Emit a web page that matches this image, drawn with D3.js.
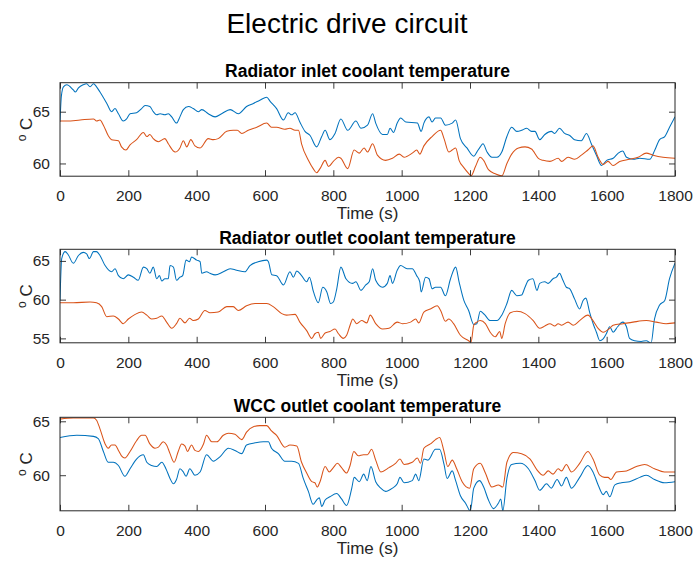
<!DOCTYPE html>
<html>
<head>
<meta charset="utf-8">
<script src="https://cdn.jsdelivr.net/npm/d3@7"></script>
<style>
  html, body { margin: 0; padding: 0; background: #fff; }
  svg { display: block; font-family: "Liberation Sans", Arial, Helvetica, sans-serif; }
</style>
</head>
<body>
<svg id="chart" width="694" height="561"></svg>
<script>
// ---- Data: [time (s), temperature (°C)] ----
const xTicks = [0, 200, 400, 600, 800, 1000, 1200, 1400, 1600, 1800];

const panelTitles = [
  "Radiator inlet coolant temperature",
  "Radiator outlet coolant temperature",
  "WCC outlet coolant temperature"
];
const yDomains = [[58.77, 67.8], [54.43, 66.5], [56.7, 65.37]];
const yTicks = [[60, 65], [55, 60, 65], [60, 65]];

const inletBlue = [[0,64.0],[4,66.5],[10,67.4],[20,67.6],[39,67.1],[45,66.9],[54,67.3],[68,67.6],[78,67.7],[88,67.4],[98,67.7],[107,67.4],[117,66.9],[137,65.8],[151,65.0],[161,65.3],[171,64.8],[185,64.1],[195,64.3],[205,64.8],[224,64.9],[239,65.3],[249,65.6],[263,65.5],[273,65.0],[283,64.7],[293,64.8],[307,64.7],[317,64.8],[327,64.5],[341,63.9],[351,64.5],[361,65.2],[376,65.5],[390,65.3],[405,65.0],[415,65.2],[434,64.8],[454,64.5],[473,64.8],[498,65.2],[522,64.8],[546,65.5],[566,65.8],[585,66.1],[605,66.4],[615,66.0],[634,65.3],[654,64.2],[668,64.9],[678,64.7],[688,64.9],[702,64.0],[717,63.1],[732,62.7],[751,61.6],[766,62.6],[776,63.2],[790,62.3],[805,62.9],[822,64.3],[842,63.2],[866,64.1],[881,63.4],[900,63.7],[915,64.8],[924,63.9],[944,62.8],[958,62.8],[966,63.4],[976,63.0],[987,63.9],[997,64.4],[1012,64.0],[1046,63.9],[1057,63.1],[1065,63.9],[1080,64.5],[1089,64.0],[1099,64.4],[1114,64.4],[1128,63.7],[1148,63.9],[1158,64.2],[1172,62.4],[1191,61.5],[1211,60.7],[1220,61.1],[1230,61.6],[1238,61.9],[1250,61.1],[1264,60.6],[1279,60.6],[1293,61.1],[1308,62.6],[1322,63.5],[1337,63.1],[1351,63.2],[1366,63.4],[1380,63.1],[1390,63.1],[1404,62.3],[1419,62.8],[1438,63.1],[1448,62.9],[1462,63.4],[1477,62.9],[1492,62.7],[1506,62.3],[1526,62.2],[1541,62.9],[1555,61.9],[1570,60.8],[1585,59.8],[1600,60.3],[1619,60.5],[1634,61.0],[1647,61.2],[1658,60.6],[1678,60.4],[1697,60.5],[1726,60.4],[1741,61.3],[1755,62.3],[1770,62.6],[1784,63.5],[1800,64.5]];

const inletOrange = [[0,64.1],[20,64.1],[59,64.2],[98,64.3],[107,64.1],[117,64.2],[127,63.7],[141,62.7],[151,62.3],[171,62.2],[180,61.6],[193,61.3],[205,61.8],[224,62.3],[244,63.0],[254,62.6],[263,62.8],[273,62.4],[288,62.1],[307,62.4],[317,61.9],[337,61.1],[351,61.5],[361,62.2],[371,61.6],[383,62.3],[395,61.7],[410,61.5],[434,62.4],[449,62.3],[463,62.4],[488,63.1],[507,63.2],[519,63.2],[532,62.9],[551,63.2],[576,63.5],[605,63.9],[619,63.5],[634,63.5],[658,63.3],[673,63.4],[688,63.2],[698,63.2],[707,61.9],[727,60.3],[741,59.5],[751,59.1],[761,59.5],[776,60.3],[786,59.7],[800,60.2],[815,60.6],[822,60.5],[842,59.5],[861,61.3],[876,61.0],[890,61.5],[900,61.1],[915,61.9],[929,60.8],[953,60.3],[973,60.5],[993,60.9],[1007,60.6],[1031,61.0],[1044,61.3],[1053,60.9],[1065,61.7],[1089,62.6],[1114,63.2],[1124,62.4],[1138,61.1],[1148,61.3],[1158,61.5],[1168,60.3],[1182,59.6],[1197,59.0],[1203,58.8],[1216,59.7],[1230,60.6],[1240,60.3],[1254,59.4],[1274,59.0],[1293,58.8],[1308,60.0],[1322,60.9],[1342,61.5],[1361,61.6],[1380,61.4],[1400,60.5],[1414,60.3],[1434,60.2],[1458,60.5],[1468,60.2],[1487,60.6],[1506,60.4],[1526,60.8],[1545,61.3],[1560,61.7],[1575,60.6],[1590,59.9],[1604,60.2],[1619,59.8],[1638,60.2],[1667,60.4],[1692,60.6],[1716,61.0],[1736,60.8],[1765,60.6],[1800,60.5]];

const outletBlue = [[0,59.9],[5,65.3],[15,66.2],[24,65.8],[39,64.7],[54,65.7],[68,66.1],[78,65.9],[86,65.3],[98,66.2],[107,66.2],[117,65.7],[132,64.4],[151,63.6],[161,64.0],[171,63.1],[185,62.7],[200,63.2],[215,62.9],[229,62.5],[244,64.2],[254,64.0],[263,63.4],[273,64.2],[283,62.7],[291,63.1],[298,62.4],[307,62.7],[317,62.7],[322,64.4],[332,64.2],[341,62.5],[351,62.9],[359,63.1],[369,65.1],[379,64.9],[385,65.5],[400,65.1],[410,64.9],[415,63.4],[429,63.6],[439,63.4],[454,63.2],[478,63.6],[498,64.0],[517,63.8],[541,63.6],[556,64.4],[580,64.9],[605,65.1],[610,64.9],[620,63.2],[634,63.1],[654,61.9],[673,63.6],[683,62.9],[693,63.7],[707,63.1],[722,62.3],[730,62.9],[742,61.0],[756,59.6],[769,61.6],[781,61.0],[792,59.5],[800,59.7],[810,61.4],[822,64.2],[837,62.7],[856,62.1],[866,62.3],[881,61.2],[895,61.9],[905,62.3],[915,64.0],[924,62.5],[944,61.6],[958,62.1],[966,63.1],[973,62.1],[987,63.8],[997,64.4],[1016,64.0],[1031,64.0],[1044,63.1],[1053,62.3],[1057,61.0],[1070,62.9],[1080,62.7],[1089,61.4],[1099,61.6],[1114,61.6],[1128,60.5],[1143,62.7],[1158,64.2],[1168,62.3],[1182,59.9],[1196,58.6],[1211,56.8],[1220,56.9],[1230,58.5],[1242,58.1],[1259,57.3],[1279,57.3],[1293,58.0],[1308,59.5],[1322,61.2],[1337,60.5],[1351,60.6],[1361,61.6],[1371,62.5],[1384,62.7],[1396,61.2],[1404,62.1],[1419,62.3],[1429,62.1],[1443,62.7],[1453,62.9],[1462,63.4],[1472,62.5],[1482,61.6],[1492,61.4],[1506,60.1],[1521,58.8],[1531,59.9],[1539,60.2],[1550,58.4],[1562,56.7],[1570,55.8],[1580,54.7],[1589,54.9],[1599,55.6],[1609,56.5],[1619,55.8],[1632,56.5],[1647,57.1],[1658,56.5],[1667,55.0],[1682,54.7],[1701,54.6],[1716,54.7],[1730,54.4],[1740,57.5],[1755,59.3],[1770,59.9],[1784,62.7],[1800,64.7]];

const outletOrange = [[0,59.6],[39,59.6],[88,59.7],[107,59.6],[122,59.1],[137,57.8],[156,57.9],[171,57.5],[185,56.9],[200,57.5],[220,58.1],[239,58.4],[254,58.0],[268,57.5],[283,57.6],[298,57.9],[312,57.1],[327,56.3],[341,56.9],[351,57.6],[366,57.0],[379,57.6],[390,57.3],[405,57.5],[424,58.6],[439,58.3],[463,58.4],[488,59.1],[507,59.1],[522,58.6],[546,59.2],[571,59.5],[605,59.5],[624,59.1],[649,58.2],[663,58.0],[688,58.1],[702,57.1],[722,56.0],[737,55.0],[746,55.6],[756,55.8],[763,55.0],[776,55.7],[790,55.9],[805,56.2],[815,55.6],[829,55.0],[839,55.4],[849,56.7],[857,57.5],[868,56.9],[883,57.3],[898,57.0],[908,58.0],[924,56.9],[944,56.2],[963,56.3],[987,57.1],[1002,56.9],[1026,57.1],[1041,57.5],[1050,57.0],[1065,58.4],[1084,58.8],[1104,59.2],[1114,58.6],[1128,57.2],[1138,57.5],[1152,56.9],[1172,55.4],[1196,54.7],[1203,54.5],[1211,56.7],[1220,57.1],[1230,57.3],[1245,56.9],[1259,55.8],[1274,55.2],[1287,55.9],[1293,55.0],[1303,56.9],[1318,58.3],[1337,58.5],[1361,58.2],[1385,57.3],[1404,56.3],[1419,56.6],[1434,56.9],[1448,56.6],[1458,56.9],[1468,56.7],[1487,57.1],[1502,56.7],[1521,57.3],[1545,58.0],[1560,57.3],[1575,56.3],[1590,55.8],[1609,56.3],[1619,56.7],[1648,56.9],[1677,57.1],[1716,57.3],[1745,57.1],[1774,56.9],[1800,57.0]];

const wccBlue = [[0,63.5],[49,63.7],[98,63.6],[112,63.4],[127,62.2],[141,61.2],[156,61.2],[171,60.9],[190,59.9],[205,60.6],[224,61.5],[244,61.9],[254,61.2],[268,60.9],[283,60.8],[298,61.2],[310,60.6],[322,59.7],[332,59.2],[341,59.6],[351,60.6],[361,60.3],[369,59.9],[380,60.6],[395,60.0],[410,60.3],[429,61.9],[449,61.3],[468,61.7],[493,62.5],[512,62.3],[532,62.0],[546,62.8],[571,63.0],[595,63.1],[610,63.1],[619,62.5],[639,62.0],[658,61.3],[678,61.3],[698,61.1],[712,59.7],[727,58.5],[741,57.3],[751,57.7],[759,57.9],[766,57.1],[776,57.7],[790,58.0],[810,58.3],[824,57.8],[839,57.2],[854,58.8],[861,59.8],[876,59.4],[889,60.1],[899,59.5],[910,60.8],[924,59.4],[939,58.8],[953,58.5],[973,58.8],[987,59.2],[995,59.8],[1007,59.3],[1031,59.5],[1041,60.1],[1050,59.5],[1065,61.5],[1077,61.4],[1099,62.4],[1111,62.4],[1124,61.0],[1133,59.7],[1148,60.4],[1158,59.5],[1172,58.1],[1187,57.4],[1201,56.7],[1211,58.8],[1228,59.5],[1240,58.9],[1254,57.7],[1269,56.9],[1283,57.4],[1290,57.8],[1296,56.7],[1308,59.7],[1322,61.0],[1347,61.1],[1371,60.6],[1390,59.5],[1404,58.6],[1424,59.2],[1438,58.8],[1455,59.6],[1468,59.0],[1482,59.8],[1497,58.8],[1521,59.8],[1545,60.9],[1560,60.3],[1575,59.1],[1590,58.2],[1599,58.5],[1609,58.0],[1624,59.1],[1643,59.3],[1667,59.4],[1697,59.8],[1716,60.0],[1740,59.6],[1769,59.3],[1800,59.4]];

const wccOrange = [[0,65.2],[39,65.3],[98,65.3],[107,65.1],[117,64.3],[132,62.9],[141,62.5],[151,62.8],[161,62.8],[171,62.3],[180,61.8],[190,61.6],[205,62.2],[224,63.2],[239,63.7],[249,63.7],[263,62.9],[278,62.5],[288,62.6],[302,63.1],[312,62.8],[322,62.0],[334,61.2],[346,62.2],[356,62.9],[366,62.7],[373,62.2],[385,62.8],[395,62.3],[405,62.2],[420,62.9],[429,63.7],[444,63.1],[459,63.1],[478,63.7],[493,63.9],[512,63.8],[532,63.3],[546,64.0],[566,64.5],[585,64.6],[605,64.6],[619,64.1],[634,63.7],[658,62.6],[673,62.8],[693,62.7],[707,61.2],[722,60.2],[737,59.4],[746,59.3],[753,58.9],[761,59.4],[776,60.8],[788,60.3],[800,60.7],[812,61.1],[824,60.7],[839,60.2],[849,60.9],[860,62.2],[873,61.8],[888,61.9],[900,61.9],[912,62.4],[924,61.4],[939,60.3],[963,60.7],[982,61.1],[995,61.5],[1007,61.0],[1031,61.2],[1046,61.6],[1055,61.1],[1065,62.5],[1084,62.9],[1099,63.3],[1111,63.5],[1124,62.2],[1135,60.8],[1148,61.4],[1161,60.6],[1177,59.4],[1199,58.8],[1211,60.6],[1230,61.1],[1245,60.2],[1264,58.9],[1283,59.1],[1296,58.9],[1308,61.2],[1327,62.1],[1351,62.0],[1376,61.5],[1396,60.5],[1414,60.0],[1429,60.4],[1443,60.1],[1458,60.6],[1468,60.4],[1482,61.0],[1497,60.3],[1521,61.1],[1545,62.2],[1560,61.5],[1580,60.0],[1594,59.8],[1604,59.8],[1612,59.6],[1629,60.3],[1658,60.4],[1687,60.8],[1711,61.0],[1740,60.6],[1769,60.3],[1800,60.3]];

// ---- Layout ----
const W = 694, H = 561;
const plotLeft = 60, plotRight = 675;
const panelTops = [82.7, 249.3, 417.3];
const panelHeight = 93.5;
const tickLen = 6;
const axisColor = "#262626";
const seriesColors = ["#0072BD", "#D95319"];

const panels = [
  { title: panelTitles[0], domain: yDomains[0], ticks: yTicks[0], series: [inletBlue, inletOrange] },
  { title: panelTitles[1], domain: yDomains[1], ticks: yTicks[1], series: [outletBlue, outletOrange] },
  { title: panelTitles[2], domain: yDomains[2], ticks: yTicks[2], series: [wccBlue, wccOrange] }
];

const svg = d3.select("#chart");

svg.append("text")
  .attr("x", W / 2)
  .attr("y", 32.5)
  .attr("text-anchor", "middle")
  .attr("font-size", 28)
  .attr("fill", "#000")
  .text("Electric drive circuit");

const x = d3.scaleLinear().domain([0, 1800]).range([plotLeft, plotRight]);

panels.forEach((p, i) => {
  const top = panelTops[i];
  const bottom = top + panelHeight;
  const y = d3.scaleLinear().domain(p.domain).range([bottom, top]);
  const g = svg.append("g");

  const clipId = "clip" + i;
  g.append("clipPath").attr("id", clipId)
    .append("rect")
    .attr("x", plotLeft).attr("y", top)
    .attr("width", plotRight - plotLeft).attr("height", panelHeight);

  const line = d3.line()
    .curve(d3.curveMonotoneX)
    .x(d => x(d[0])).y(d => y(d[1]));
  p.series.forEach((s, k) => {
    g.append("path")
      .datum(s)
      .attr("clip-path", `url(#${clipId})`)
      .attr("fill", "none")
      .attr("stroke", seriesColors[k])
      .attr("stroke-width", 1.05)
      .attr("stroke-linejoin", "round")
      .attr("d", line);
  });

  // Axes: ticks pointing inward, mirrored on all four sides
  const fmt = d3.format("d");
  const xb = g.append("g").attr("transform", `translate(0,${bottom})`)
    .call(d3.axisBottom(x).tickValues(xTicks).tickSizeInner(-tickLen).tickSizeOuter(0).tickPadding(tickLen + 8).tickFormat(fmt));
  const xt = g.append("g").attr("transform", `translate(0,${top})`)
    .call(d3.axisTop(x).tickValues(xTicks).tickSizeInner(-tickLen).tickSizeOuter(0).tickFormat(""));
  const yl = g.append("g").attr("transform", `translate(${plotLeft},0)`)
    .call(d3.axisLeft(y).tickValues(p.ticks).tickSizeInner(-tickLen).tickSizeOuter(0).tickPadding(tickLen + 4).tickFormat(fmt));
  const yr = g.append("g").attr("transform", `translate(${plotRight},0)`)
    .call(d3.axisRight(y).tickValues(p.ticks).tickSizeInner(-tickLen).tickSizeOuter(0).tickFormat(""));

  [xb, xt, yl, yr].forEach(a => {
    a.select(".domain").remove();
    a.selectAll("line").attr("stroke", axisColor).attr("stroke-width", 0.9);
    a.selectAll("text").attr("fill", axisColor).attr("font-size", 15.5)
      .attr("font-family", "'Liberation Sans', Arial, sans-serif");
  });

  g.append("rect")
    .attr("x", plotLeft).attr("y", top)
    .attr("width", plotRight - plotLeft).attr("height", panelHeight)
    .attr("fill", "none").attr("stroke", axisColor).attr("stroke-width", 1);

  // Panel title
  g.append("text")
    .attr("x", (plotLeft + plotRight) / 2)
    .attr("y", top - 5.5)
    .attr("text-anchor", "middle")
    .attr("font-size", 17.5)
    .attr("font-weight", "bold")
    .attr("fill", "#000")
    .text(p.title);

  // X label
  g.append("text")
    .attr("x", (plotLeft + plotRight) / 2)
    .attr("y", bottom + 43)
    .attr("text-anchor", "middle")
    .attr("font-size", 17)
    .attr("fill", axisColor)
    .text("Time (s)");

  // Y label: superscript o followed by C
  const yLab = g.append("text")
    .attr("transform", `translate(32,${(top + bottom) / 2}) rotate(-90)`)
    .attr("text-anchor", "middle")
    .attr("font-size", 17)
    .attr("fill", axisColor);
  yLab.append("tspan").attr("font-size", 12).attr("dy", -6).text("o");
  yLab.append("tspan").attr("dy", 6).text(" C");
});
</script>
</body>
</html>
